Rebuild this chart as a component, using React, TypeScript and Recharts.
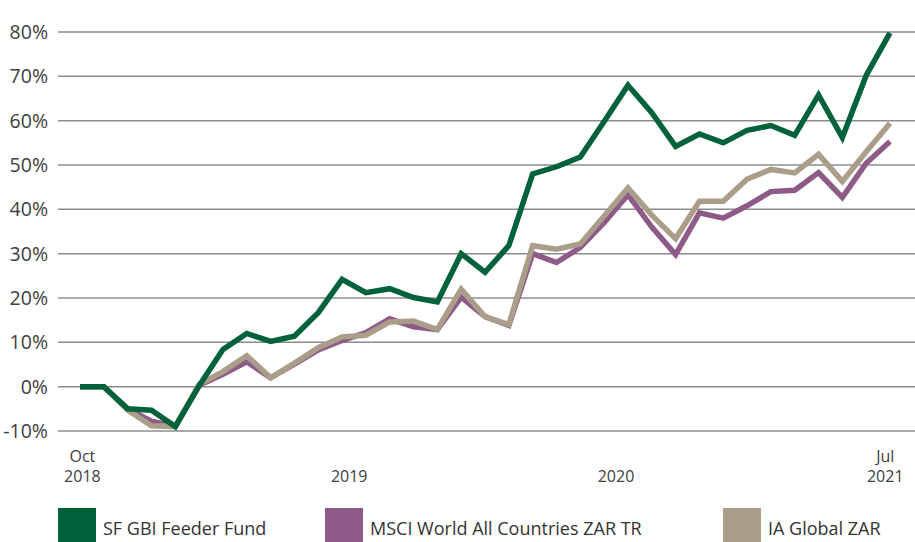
import { CartesianGrid, Line, LineChart, XAxis, YAxis } from "recharts";

// 35 equally spaced observations, Oct 2018 .. Jul 2021
const fund = [
	0, 0, -5.0, -5.3, -9.0, 0.2, 8.4, 12.0, 10.2, 11.4, 16.7, 24.2, 21.2, 22.1, 20.1, 19.1, 30.0, 25.8, 31.8, 48.0,
	49.6, 51.8, 59.8, 68.0, 61.8, 54.2, 57.0, 55.0, 57.8, 58.9, 56.7, 65.8, 56.2, 70.2, 79.8,
];
const msci = [
	0, 0, -5.0, -7.8, -9.0, 0.3, 2.8, 5.6, 2.0, 5.1, 8.3, 10.4, 12.2, 15.3, 13.5, 12.9, 20.2, 15.8, 13.8, 30.0, 28.0,
	31.4, 37.0, 43.3, 36.0, 29.8, 39.2, 38.0, 40.8, 44.0, 44.3, 48.3, 42.7, 50.4, 55.3,
];
const iaGlobal = [
	0, 0, -5.3, -8.8, -9.0, 0.5, 3.4, 7.0, 2.0, 5.3, 8.8, 11.2, 11.6, 14.6, 14.8, 12.9, 22.0, 15.8, 14.0, 31.8, 31.0,
	32.2, 38.5, 44.8, 38.7, 33.4, 41.8, 41.8, 46.8, 49.0, 48.2, 52.4, 46.3, 53.0, 59.4,
];

const xTicks = [0.1, 11.3, 22.5, 33.8];
const xTickLabels = [
	["Oct", "2018"],
	["", "2019"],
	["", "2020"],
	["Jul", "2021"],
];
const yTicks = [-10, 0, 10, 20, 30, 40, 50, 60, 70, 80];

const seriesNames = ["SF GBI Feeder Fund", "MSCI World All Countries ZAR TR", "IA Global ZAR"];
const colors = { fund: "#00623A", msci: "#8E5A87", ia: "#AA9E8A" };

const data = fund.map((v, i) => ({ i, fund: v, msci: msci[i], ia: iaGlobal[i] }));

const FONT = "'Open Sans', sans-serif";

function XTick(props: any) {
	const { x, y, payload } = props;
	const k = xTicks.indexOf(payload.value);
	const [top, bottom] = xTickLabels[k] ?? ["", ""];
	return (
		<g>
			{top ? (
				<text x={x} y={y + 31} textAnchor="middle" fontSize={16} fill="#404040" fontFamily={FONT}>
					{top}
				</text>
			) : null}
			<text x={x} y={y + 51} textAnchor="middle" fontSize={16} fill="#404040" fontFamily={FONT}>
				{bottom}
			</text>
		</g>
	);
}

const legendItems = [
	{ name: seriesNames[0], color: colors.fund, left: 58 },
	{ name: seriesNames[1], color: colors.msci, left: 325 },
	{ name: seriesNames[2], color: colors.ia, left: 723 },
];

export default function App() {
	return (
		<div
			style={{
				position: "absolute",
				left: 0,
				top: 0,
				width: 915,
				height: 542,
				background: "#fff",
				overflow: "hidden",
			}}
		>
			<LineChart width={915} height={542} data={data} margin={{ top: 32, right: 0, bottom: 51, left: 0 }}>
				<CartesianGrid vertical={false} stroke="#8c8c8c" strokeWidth={1.5} />
				<XAxis
					dataKey="i"
					type="number"
					domain={[0, 34]}
					ticks={xTicks}
					padding={{ left: 22, right: 25 }}
					axisLine={false}
					tickLine={false}
					tickSize={0}
					tickMargin={0}
					height={60}
					interval={0}
					tick={<XTick />}
				/>
				<YAxis
					type="number"
					domain={[-10, 80]}
					ticks={yTicks}
					width={58}
					axisLine={false}
					tickLine={false}
					tickSize={0}
					tickMargin={10}
					tickFormatter={(v: number) => `${v}%`}
					tick={{ fontSize: 19.5, fill: "#404040", fontFamily: FONT }}
				/>
				<Line dataKey="msci" stroke={colors.msci} strokeWidth={5.5} dot={false} isAnimationActive={false} />
				<Line dataKey="ia" stroke={colors.ia} strokeWidth={5.5} dot={false} isAnimationActive={false} />
				<Line dataKey="fund" stroke={colors.fund} strokeWidth={5.5} dot={false} isAnimationActive={false} />
			</LineChart>
			{legendItems.map((it) => (
				<div
					key={it.name}
					style={{
						position: "absolute",
						left: it.left,
						top: 508,
						display: "flex",
						alignItems: "center",
						fontFamily: FONT,
						fontSize: 18,
						color: "#333",
						whiteSpace: "nowrap",
					}}
				>
					<div style={{ width: 38, height: 36, background: it.color, marginRight: 7 }} />
					<span style={{ position: "relative", top: 2 }}>{it.name}</span>
				</div>
			))}
		</div>
	);
}
